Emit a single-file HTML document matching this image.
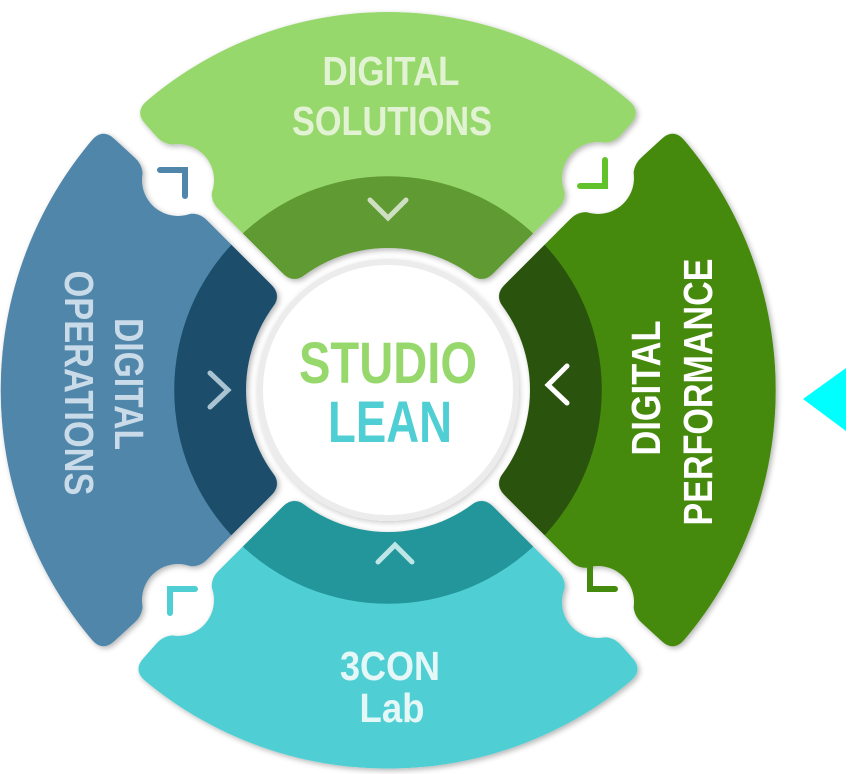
<!DOCTYPE html>
<html><head><style>html,body{margin:0;padding:0;background:#fff}svg{display:block}</style></head>
<body>
<svg width="858" height="774" viewBox="0 0 858 774" xmlns="http://www.w3.org/2000/svg">
<defs>
<filter id="rd" x="-10%" y="-10%" width="120%" height="120%">
<feGaussianBlur in="SourceAlpha" stdDeviation="8" result="b"/>
<feComponentTransfer in="b" result="t"><feFuncA type="linear" slope="30" intercept="-14"/></feComponentTransfer>
<feComposite in="SourceGraphic" in2="t" operator="in" result="c"/>
<feGaussianBlur in="c" stdDeviation="3" result="sb"/>
<feOffset in="sb" dx="2" dy="2" result="so"/>
<feComponentTransfer in="so" result="sf"><feFuncA type="linear" slope="0.3"/><feFuncR type="linear" slope="0"/><feFuncG type="linear" slope="0"/><feFuncB type="linear" slope="0"/></feComponentTransfer>
<feMerge><feMergeNode in="sf"/><feMergeNode in="c"/></feMerge>
</filter>
<filter id="sh" x="-20%" y="-20%" width="140%" height="140%"><feDropShadow dx="1" dy="2" stdDeviation="3" flood-color="#000" flood-opacity="0.2"/></filter>
<mask id="m" maskUnits="userSpaceOnUse" x="0" y="0" width="858" height="774">
<rect width="858" height="774" fill="#fff"/>
<g stroke="#000" stroke-width="16">
<line x1="388" y1="390" x2="178" y2="180"/><line x1="388" y1="390" x2="598" y2="180"/>
<line x1="388" y1="390" x2="178" y2="600"/><line x1="388" y1="390" x2="598" y2="600"/>
</g>
<g fill="#000">
<circle cx="388" cy="390" r="142"/>
<circle cx="178" cy="180" r="36"/><circle cx="598" cy="178" r="36"/>
<circle cx="178" cy="600" r="36"/><circle cx="598" cy="602" r="36"/>
<polygon points="186,170 168,188 50,80 80,50"/>
<polygon points="590,170 608,188 726,80 696,50"/>
<polygon points="186,610 168,592 50,700 80,730"/>
<polygon points="590,610 608,592 726,700 696,730"/>
</g>
</mask>
</defs>
<g filter="url(#rd)"><g mask="url(#m)">
<path d="M122,124 A372,372 0 0 1 654,124 L388,390 Z" fill="#97d86c"/>
<path d="M237,239 A213,213 0 0 1 539,239 L388,390 Z" fill="#5e9a32"/>
</g></g>
<g filter="url(#rd)"><g mask="url(#m)">
<path d="M662,116 A387,387 0 0 1 662,664 L388,390 Z" fill="#448a0c"/>
<path d="M539,239 A213,213 0 0 1 539,541 L388,390 Z" fill="#2b5208"/>
</g></g>
<g filter="url(#rd)"><g mask="url(#m)">
<path d="M656,658 A380,380 0 0 1 120,658 L388,390 Z" fill="#4fcfd4"/>
<path d="M539,541 A213,213 0 0 1 237,541 L388,390 Z" fill="#22969a"/>
</g></g>
<g filter="url(#rd)"><g mask="url(#m)">
<path d="M114,664 A388,388 0 0 1 114,116 L388,390 Z" fill="#4f86aa"/>
<path d="M237,541 A213,213 0 0 1 237,239 L388,390 Z" fill="#1a4e6b"/>
</g></g>
<g font-family="'Liberation Sans', sans-serif" font-weight="bold">
<circle cx="388" cy="390" r="128" fill="#fff" stroke="#ececec" stroke-width="6" filter="url(#sh)"/>
<text x="388" y="383" text-anchor="middle" font-size="58" fill="#97d86c" textLength="178" lengthAdjust="spacingAndGlyphs">STUDIO</text>
<text x="390" y="442" text-anchor="middle" font-size="58" fill="#4fcfd4" textLength="124" lengthAdjust="spacingAndGlyphs">LEAN</text>
<text x="391" y="85" text-anchor="middle" font-size="41" fill="#e2f3d4" textLength="137" lengthAdjust="spacingAndGlyphs">DIGITAL</text>
<text x="392" y="135" text-anchor="middle" font-size="41" fill="#e2f3d4" textLength="200" lengthAdjust="spacingAndGlyphs">SOLUTIONS</text>
<text x="390" y="680" text-anchor="middle" font-size="41" fill="#e5f7f7" textLength="100" lengthAdjust="spacingAndGlyphs">3CON</text>
<text x="392" y="722" text-anchor="middle" font-size="41" fill="#e5f7f7" textLength="65" lengthAdjust="spacingAndGlyphs">Lab</text>
<g transform="translate(115,384) rotate(90)"><text x="0" y="0" text-anchor="middle" font-size="41" fill="#c9dbe8" textLength="132" lengthAdjust="spacingAndGlyphs">DIGITAL</text></g>
<g transform="translate(65,383) rotate(90)"><text x="0" y="0" text-anchor="middle" font-size="41" fill="#c9dbe8" textLength="225" lengthAdjust="spacingAndGlyphs">OPERATIONS</text></g>
<g transform="translate(660,388) rotate(-90)"><text x="0" y="0" text-anchor="middle" font-size="41" fill="#fff" textLength="135" lengthAdjust="spacingAndGlyphs">DIGITAL</text></g>
<g transform="translate(712,392) rotate(-90)"><text x="0" y="0" text-anchor="middle" font-size="41" fill="#fff" textLength="267" lengthAdjust="spacingAndGlyphs">PERFORMANCE</text></g>
</g>
<g fill="none" stroke-width="5" stroke-linecap="round">
<polyline points="370,200 388,218 406,200" stroke="#cfe0c2"/>
<polyline points="378,562 395,545 412,562" stroke="#bfe6e6"/>
<polyline points="210,373 228,390 210,407" stroke="#a9c3d3"/>
<polyline points="567,366 548,385 567,403" stroke="#fff"/>
</g>
<g fill="none" stroke-width="6" stroke-linecap="round">
<polyline points="160,170 185,170 185,196" stroke="#4f86aa"/>
<polyline points="605,160 605,186 580,186" stroke="#62c22c"/>
<polyline points="590,565 590,589 615,589" stroke="#448a0c"/>
<polyline points="170,613 170,589 195,589" stroke="#4fcfd4"/>
</g>
<polygon points="803,399 846,368 846,431" fill="#00ffff"/>
</svg>
</body></html>
